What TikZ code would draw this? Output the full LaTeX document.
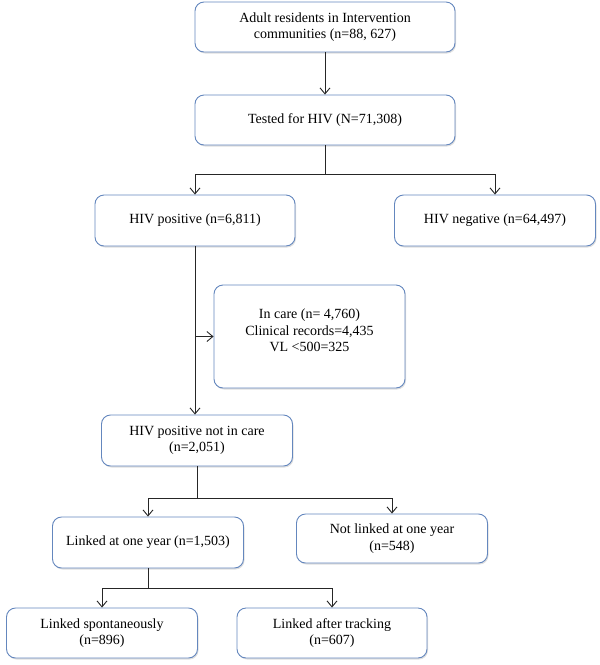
\documentclass[tikz,border=0pt]{standalone}
\usepackage{fontspec}
\setmainfont{Liberation Serif}
\usetikzlibrary{arrows.meta,shadows}
\definecolor{boxline}{RGB}{100,135,190}
\begin{document}
\begin{tikzpicture}[x=1pt,y=-1pt,
  box/.style={draw=boxline, line width=0.9pt, rounded corners=9pt, fill=white,
    align=center, inner sep=2pt, font=\fontsize{14}{16.5}\selectfont,
    drop shadow={opacity=0.25, shadow xshift=1pt, shadow yshift=-1.5pt}},
  conn/.style={line width=1pt, draw=black!85},
  arr/.style={conn, -{Straight Barb[length=6pt,width=10pt,line width=0.9pt]}}]
\useasboundingbox (0,0) rectangle (600,665);
\node[box, minimum width=260pt, minimum height=50pt] (b1) at (325,27) {Adult residents in Intervention\\communities (n=88, 627)};
\node[box, minimum width=260pt, minimum height=50pt] (b2) at (325,120) {Tested for HIV (N=71,308)};
\node[box, minimum width=200pt, minimum height=51pt] (b3) at (195,220.5) {HIV positive (n=6,811)};
\node[box, minimum width=201pt, minimum height=51pt] (b4) at (495,220.5) {HIV negative (n=64,497)};
\node[box, minimum width=191pt, minimum height=103pt] (ic) at (309.5,336.5) {In care (n= 4,760)\\Clinical records=4,435\\VL <500=325\\[-4pt]\mbox{}};
\node[box, minimum width=191pt, minimum height=51pt] (b5) at (197,440.5) {HIV positive not in care\\(n=2,051)};
\node[box, minimum width=191pt, minimum height=51pt] (b6) at (148,542.5) {Linked at one year (n=1,503)};
\node[box, minimum width=191pt, minimum height=49pt] (b7) at (392,538.5) {Not linked at one year\\(n=548)};
\node[box, minimum width=191pt, minimum height=50pt] (b8) at (102,633) {Linked spontaneously\\(n=896)};
\node[box, minimum width=190pt, minimum height=50pt] (b9) at (332,633) {Linked after tracking\\(n=607)};

\draw[arr] (b1) -- (b2);
\draw[conn] (b2.south) -- ++(0,29) coordinate (j1);
\draw[arr] (j1) -| (b3.north);
\draw[arr] (j1) -| (b4.north);
\draw[arr] (b3.south) -- (b3.south |- b5.north);
\draw[arr] (b3.south |- ic.west) -- (ic.west);
\draw[conn] (b5.south) -- ++(0,32) coordinate (j2);
\draw[arr] (j2) -| (b6.north);
\draw[arr] (j2) -| (b7.north);
\draw[conn] (b6.south) -- ++(0,20) coordinate (j3);
\draw[arr] (j3) -| (b8.north);
\draw[arr] (j3) -| (b9.north);
\end{tikzpicture}
\end{document}
